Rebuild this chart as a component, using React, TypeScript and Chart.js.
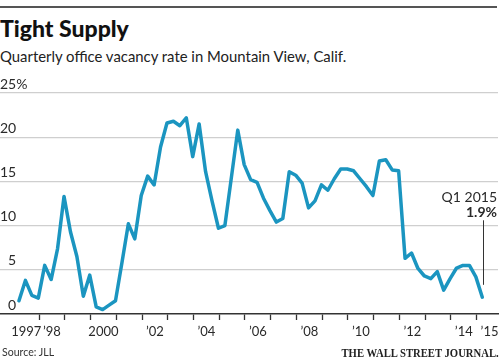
import React, { useEffect, useRef } from "react";
import { Chart, registerables } from "chart.js";

Chart.register(...registerables);

// ---- Data ----
const startYear = 1997;
const quarterOffset = 0.22; // where a quarter's point sits within its year (in years)
const vacancyRate: number[] = [
  1.5, 3.8, 2.1, 1.8, // 1997
  5.5, 3.9, 7.4, 13.3, // 1998
  9.3, 6.5, 2.0, 4.4, // 1999
  0.8, 0.5, 1.0, 1.5, // 2000
  5.8, 10.2, 8.5, 13.4, // 2001
  15.6, 14.6, 18.9, 21.6, // 2002
  21.8, 21.3, 22.2, 17.8, // 2003
  21.5, 16.1, 12.8, 9.7, // 2004
  10.0, 15.4, 20.8, 16.9, // 2005
  15.2, 14.9, 13.1, 11.7, // 2006
  10.4, 10.8, 16.1, 15.7, // 2007
  14.8, 12.0, 12.8, 14.6, // 2008
  14.0, 15.3, 16.4, 16.4, // 2009
  16.2, 15.3, 14.4, 13.4, // 2010
  17.3, 17.45, 16.3, 16.2, // 2011
  6.3, 6.9, 5.15, 4.3, // 2012
  4.0, 4.8, 2.7, 4.0, // 2013
  5.2, 5.5, 5.5, 4.2, // 2014
  1.9, // 2015 Q1
];
const tickYears: number[] = [1997, 1998, 1999, 2000, 2001, 2002, 2003, 2004, 2005, 2006, 2007, 2008, 2009, 2010, 2011, 2012, 2013, 2014, 2015];
const labelYears: number[] = [1997, 1998, 2000, 2002, 2004, 2006, 2008, 2010, 2012, 2014, 2015];
const fullYearLabels: number[] = [1997, 2000];
const yTicks: number[] = [0, 5, 10, 15, 20, 25];
const title = "Tight Supply";
const subtitle = "Quarterly office vacancy rate in Mountain View, Calif.";
const source = "Source: JLL";
const credit = "THE WALL STREET JOURNAL.";
const noteLabel = "Q1 2015";
const noteValue = "1.9%";

const LINE_COLOR = "#1b95c0";
const TEXT = "#2a2a2a";
const FONT = "Lato, 'Open Sans', sans-serif";

const points = vacancyRate.map((v, i) => ({ x: startYear + quarterOffset + i / 4, y: v }));

const notePlugin = {
  id: "notePlugin",
  afterDatasetsDraw(chart: any) {
    const { ctx, chartArea } = chart;
    const xs = chart.scales.x;
    const ys = chart.scales.y;
    const last = points[points.length - 1];
    const lx = Math.round(xs.getPixelForValue(last.x)) + 1.5;
    ctx.save();
    ctx.strokeStyle = "#333";
    ctx.lineWidth = 1;
    ctx.beginPath();
    ctx.moveTo(lx, ys.getPixelForValue(10.6));
    ctx.lineTo(lx, ys.getPixelForValue(3.3));
    ctx.stroke();
    ctx.fillStyle = TEXT;
    ctx.textAlign = "right";
    ctx.textBaseline = "middle";
    ctx.font = `14px ${FONT}`;
    ctx.fillText(noteLabel, chartArea.right - 1, ys.getPixelForValue(13.2));
    ctx.font = `bold 14px ${FONT}`;
    ctx.fillText(noteValue, chartArea.right - 1, ys.getPixelForValue(11.5));
    ctx.restore();
  },
};

export default function App() {
  const ref = useRef<HTMLCanvasElement | null>(null);

  useEffect(() => {
    if (!ref.current) return;
    const tickFont = { family: FONT, size: 14 };
    const xTickFont = { family: FONT, size: 13 };
    const setYTicks = (s: any) => {
      s.ticks = yTicks.map((v) => ({ value: v }));
    };
    const fitY = (s: any) => {
      s.width = 0;
      s.paddingTop = 0;
      s.paddingBottom = 0;
    };
    const chart = new Chart(ref.current, {
      type: "line",
      data: {
        datasets: [
          {
            data: points,
            borderColor: LINE_COLOR,
            borderWidth: 3.5,
            pointRadius: 0,
            tension: 0,
            borderJoinStyle: "round",
            borderCapStyle: "round",
          },
        ],
      },
      options: {
        animation: false,
        responsive: false,
        layout: { padding: { top: 23, left: 0, right: 2, bottom: 0 } },
        plugins: { legend: { display: false }, tooltip: { enabled: false }, title: { display: false } },
        scales: {
          x: {
            type: "linear",
            min: 1996.483,
            max: 2015.83,
            afterBuildTicks: (s: any) => {
              s.ticks = tickYears.map((v) => ({ value: v }));
            },
            afterFit: (s: any) => {
              s.height = 31;
              s.paddingLeft = 0;
              s.paddingRight = 0;
            },
            grid: {
              drawOnChartArea: false,
              drawTicks: true,
              tickLength: 6,
              tickWidth: 1.3,
              tickColor: (c: any) => (c.tick && c.tick.value === startYear ? "rgba(0,0,0,0)" : "#333"),
            },
            border: { display: true, color: "#333", width: 1.5 },
            ticks: {
              autoSkip: false,
              maxRotation: 0,
              minRotation: 0,
              padding: 4,
              color: TEXT,
              font: xTickFont,
              labelOffset: (c: any) => {
                const v = c.tick ? c.tick.value : 0;
                if (v === startYear) return 5.5;
                if (v === tickYears[tickYears.length - 1]) return 7.3;
                return 12.9;
              },
              callback: (v: any) => {
                const n = Number(v);
                if (!labelYears.includes(n)) return "";
                if (fullYearLabels.includes(n)) return String(n);
                return "\u2019" + String(n).slice(2);
              },
            },
          },
          y: {
            type: "linear",
            position: "left",
            min: 0,
            max: 25,
            afterBuildTicks: setYTicks,
            afterFit: fitY,
            grid: {
              drawTicks: false,
              color: (c: any) => (c.tick && c.tick.value === 0 ? "rgba(0,0,0,0)" : "#cfcfcf"),
              lineWidth: 1.2,
            },
            border: { display: false },
            ticks: {
              mirror: true,
              crossAlign: "far",
              padding: 0,
              labelOffset: -9,
              color: TEXT,
              font: tickFont,
              callback: (v: any) => (Number(v) === 25 ? "" : String(v)),
            },
          },
          yPct: {
            type: "linear",
            position: "left",
            min: 0,
            max: 25,
            afterBuildTicks: setYTicks,
            afterFit: fitY,
            grid: { display: false },
            border: { display: false },
            ticks: {
              mirror: true,
              crossAlign: "near",
              padding: 0,
              labelOffset: -9,
              color: TEXT,
              font: tickFont,
              callback: (v: any) => (Number(v) === 25 ? "25%" : ""),
            },
          },
        },
      },
      plugins: [notePlugin],
    } as any);
    return () => chart.destroy();
  }, []);

  const abs = (s: React.CSSProperties): React.CSSProperties => ({ position: "absolute", margin: 0, whiteSpace: "nowrap", ...s });

  return (
    <div style={{ position: "absolute", left: 0, top: 0, width: 500, height: 362, background: "#fff", overflow: "hidden" }}>
      <div style={abs({ left: 0, top: 6, width: 497, height: 2, background: "#555" })} />
      <div
        style={abs({
          left: 0,
          top: 17,
          fontFamily: FONT,
          fontWeight: 900,
          fontSize: 23,
          lineHeight: "23px",
          color: "#111",
        })}
      >
        {title}
      </div>
      <div
        style={abs({
          left: 0,
          top: 48,
          fontFamily: FONT,
          fontSize: 16,
          lineHeight: "16px",
          color: "#222",
          transformOrigin: "left top",
          transform: "scaleX(0.93)",
        })}
      >
        {subtitle}
      </div>
      <canvas ref={ref} width={500} height={275} style={{ position: "absolute", left: 0, top: 70, width: 500, height: 275 }} />
      <div
        style={abs({
          left: 2,
          top: 346,
          fontFamily: FONT,
          fontSize: 12,
          lineHeight: "12px",
          color: "#333",
          transformOrigin: "left top",
          transform: "scaleX(0.88)",
        })}
      >
        {source}
      </div>
      <div
        style={abs({
          right: 1,
          top: 346,
          fontFamily: "'Liberation Serif', 'DejaVu Serif', serif",
          fontWeight: 700,
          fontSize: 13,
          lineHeight: "13px",
          color: "#222",
          transformOrigin: "right top",
          transform: "scaleX(0.82)",
        })}
      >
        {credit}
      </div>
    </div>
  );
}
